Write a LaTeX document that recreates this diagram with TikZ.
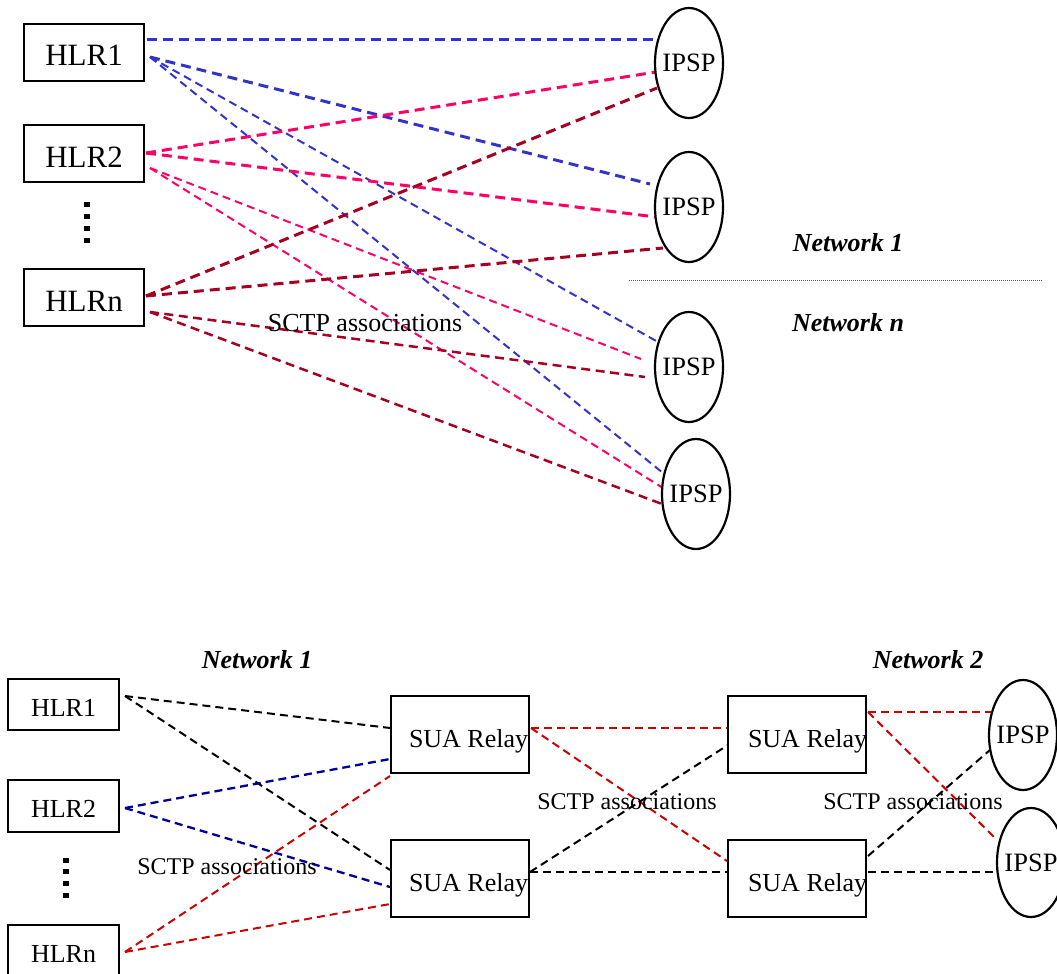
\documentclass[tikz,border=0pt]{standalone}
\usepackage{fontspec}
\setmainfont{Liberation Serif}
\usetikzlibrary{shapes.geometric,backgrounds}
\definecolor{cblue}{RGB}{51,51,204}
\definecolor{cpink}{RGB}{255,0,102}
\definecolor{cdred}{RGB}{165,0,33}
\definecolor{bblue}{RGB}{0,0,153}
\definecolor{bred}{RGB}{204,0,0}
\begin{document}
\begin{tikzpicture}[x=1pt,y=-1pt,
  box/.style={draw, rectangle, line width=2.3pt, fill=white, inner sep=0pt},
  topbox/.style={box, minimum width=120pt, minimum height=57pt,
    font=\fontsize{31}{31}\selectfont, text height=27pt, text depth=0pt},
  botbox/.style={box, minimum width=111pt, minimum height=51pt,
    font=\fontsize{26}{26}\selectfont, text height=23pt, text depth=0pt},
  suabox/.style={box, minimum width=138pt, minimum height=77pt,
    font=\fontsize{26}{26}\selectfont, text height=25pt, text depth=0pt},
  ipsp/.style={draw, ellipse, line width=2.2pt, fill=white, minimum width=68pt,
    minimum height=110pt, inner sep=-15pt, font=\fontsize{26.5}{26.5}\selectfont},
  netlabel/.style={font=\fontsize{26}{26}\selectfont\bfseries\itshape, inner sep=0pt},
  sctp/.style={font=\fontsize{24}{24}\selectfont, inner sep=0pt},
  thk/.style={dash pattern=on 10pt off 6pt, line width=3pt},
  med/.style={dash pattern=on 9pt off 5.5pt, line width=2.5pt},
  thn/.style={dash pattern=on 8pt off 5pt, line width=2pt},
  blk/.style={dash pattern=on 8pt off 5pt, line width=2pt}
]
\useasboundingbox (0,0) rectangle (1057,974);
\clip (0,0) rectangle (1057,974);

% ---------------- top part ----------------
\node[topbox] (hlr1) at (84,52.5) {HLR1};
\node[topbox] (hlr2) at (84,153.5) {HLR2};
\node[topbox] (hlrn) at (84,297.5) {HLRn};
\foreach \yy in {204,216,228,240} \fill (84,\yy-2.5) rectangle (90,\yy+2.5);

\node[ipsp] (ip1) at (689,63) {IPSP};
\node[ipsp] (ip2) at (689,207) {IPSP};
\node[ipsp] (ip3) at (689,367) {IPSP};
\node[ipsp] (ip4) at (696,494) {IPSP};

\node[netlabel] (nw1) at (848,243) {Network 1};
\node[netlabel] (nwn) at (848,323) {Network n};
\draw[gray!70!black, line width=1pt, dash pattern=on 1pt off 1pt] (629,280) -- (1043,280);
\node[sctp, font=\fontsize{26}{26}\selectfont] (sctpt) at (365,323) {SCTP associations};

\begin{scope}[on background layer]
\draw[thk,cblue] ([xshift=63pt,yshift=12.5pt]hlr1.center) -- ([xshift=-33pt,yshift=23pt]ip1.center);
\draw[thk,cblue] ([xshift=66pt,yshift=-4.5pt]hlr1.center) -- ([xshift=-39pt,yshift=23pt]ip2.center);
\draw[thn,cblue] ([xshift=66pt,yshift=-4.5pt]hlr1.center) -- ([xshift=-31pt,yshift=25pt]ip3.center);
\draw[thn,cblue] ([xshift=66pt,yshift=-4.5pt]hlr1.center) -- ([xshift=-33pt,yshift=21pt]ip4.center);

\draw[thk,cpink] ([xshift=62pt,yshift=0.5pt]hlr2.center) -- ([xshift=-33pt,yshift=-9pt]ip1.center);
\draw[thk,cpink] ([xshift=62pt,yshift=0.5pt]hlr2.center) -- ([xshift=-33pt,yshift=-10pt]ip2.center);
\draw[thn,cpink] ([xshift=66pt,yshift=-14.5pt]hlr2.center) -- ([xshift=-48pt,yshift=8pt]ip3.center);
\draw[thn,cpink] ([xshift=66pt,yshift=-14.5pt]hlr2.center) -- ([xshift=-33pt,yshift=6pt]ip4.center);

\draw[thk,cdred] ([xshift=62pt,yshift=1.5pt]hlrn.center) -- ([xshift=-32pt,yshift=-25pt]ip1.center);
\draw[thk,cdred] ([xshift=62pt,yshift=1.5pt]hlrn.center) -- ([xshift=-26pt,yshift=-41pt]ip2.center);
\draw[med,cdred] ([xshift=66pt,yshift=-14.5pt]hlrn.center) -- ([xshift=-44pt,yshift=-10pt]ip3.center);
\draw[med,cdred] ([xshift=66pt,yshift=-14.5pt]hlrn.center) -- ([xshift=-34pt,yshift=-10pt]ip4.center);
\end{scope}

% ---------------- bottom part ----------------
\node[botbox] (bh1) at (63.5,704.5) {HLR1};
\node[botbox, minimum height=52pt] (bh2) at (63.5,806) {HLR2};
\node[botbox, minimum height=52pt] (bhn) at (63.5,951) {HLRn};
\foreach \yy in {860,871.7,883.4,895} \fill (63,\yy-2.5) rectangle (69,\yy+2.5);

\node[suabox] (sua1) at (460,734.5) {\makebox[138pt][l]{\hspace{18pt}SUA Relay}};
\node[suabox] (sua2) at (460,878.5) {\makebox[138pt][l]{\hspace{18pt}SUA Relay}};
\node[suabox] (sua3) at (797,734.5) {\makebox[138pt][l]{\hspace{20pt}SUA Relay}};
\node[suabox] (sua4) at (797,878.5) {\makebox[138pt][l]{\hspace{20pt}SUA Relay}};

\node[ipsp] (bip1) at (1023,735) {IPSP};
\node[ipsp, minimum height=109pt] (bip2) at (1031,862.5) {IPSP};

\node[netlabel] (bnw1) at (257,660) {Network 1};
\node[netlabel] (bnw2) at (928,660) {Network 2};
\node[sctp] (sctp1) at (227,867) {SCTP associations};
\node[sctp] (sctp2) at (627,802) {SCTP associations};
\node[sctp] (sctp3) at (913,802) {SCTP associations};

\begin{scope}[on background layer]
\draw[blk,black] ([xshift=61.5pt,yshift=8.5pt]bh1.center) -- ([xshift=-70pt,yshift=6.5pt]sua1.center);
\draw[blk,black] ([xshift=61.5pt,yshift=8.5pt]bh1.center) -- ([xshift=-70pt,yshift=8.5pt]sua2.center);
\draw[blk,bblue,line width=2.3pt] ([xshift=61.5pt,yshift=-2pt]bh2.center) -- ([xshift=-70pt,yshift=-24.5pt]sua1.center);
\draw[blk,bblue,line width=2.3pt] ([xshift=61.5pt,yshift=-2pt]bh2.center) -- ([xshift=-70pt,yshift=-8.5pt]sua2.center);
\draw[blk,bred] ([xshift=61.5pt,yshift=-1pt]bhn.center) -- ([xshift=-70pt,yshift=-41.5pt]sua1.center);
\draw[blk,bred] ([xshift=61.5pt,yshift=-1pt]bhn.center) -- ([xshift=-70pt,yshift=-25.5pt]sua2.center);

\draw[blk,bred] ([xshift=71pt,yshift=6.5pt]sua1.center) -- ([xshift=-69pt,yshift=6.5pt]sua3.center);
\draw[blk,bred] ([xshift=71pt,yshift=6.5pt]sua1.center) -- ([xshift=-70pt,yshift=17.5pt]sua4.center);
\draw[blk,black] ([xshift=70pt,yshift=6.5pt]sua2.center) -- ([xshift=-69pt,yshift=-10.5pt]sua3.center);
\draw[blk,black] ([xshift=70pt,yshift=6.5pt]sua2.center) -- ([xshift=-69pt,yshift=6.5pt]sua4.center);

\draw[blk,bred] ([xshift=71pt,yshift=22.5pt]sua3.center) -- ([xshift=-25pt,yshift=23pt]bip1.center);
\draw[blk,bred] ([xshift=71pt,yshift=22.5pt]sua3.center) -- ([xshift=-37pt,yshift=25.5pt]bip2.center);
\draw[blk,black] ([xshift=71pt,yshift=22.5pt]sua4.center) -- ([xshift=-25pt,yshift=-8pt]bip1.center);
\draw[blk,black] ([xshift=71pt,yshift=6.5pt]sua4.center) -- ([xshift=-34pt,yshift=-9.5pt]bip2.center);
\end{scope}
\end{tikzpicture}
\end{document}
